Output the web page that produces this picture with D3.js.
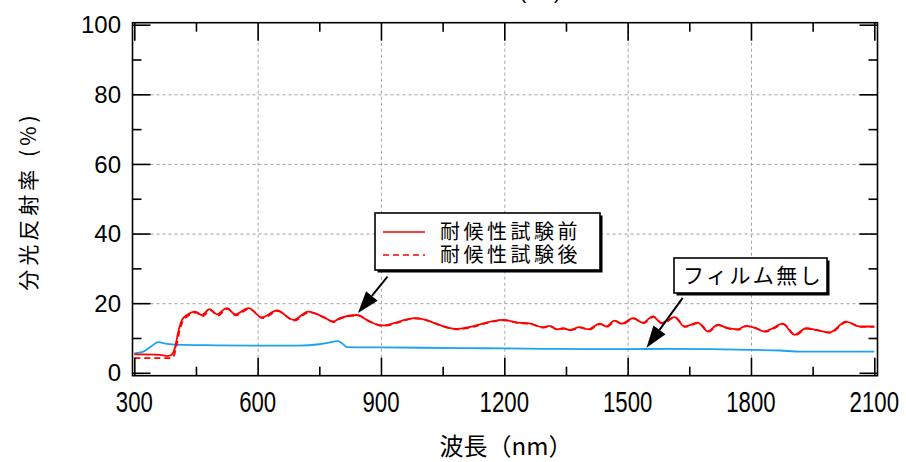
<!DOCTYPE html>
<html>
<head>
<meta charset="utf-8">
<script src="https://cdn.jsdelivr.net/npm/d3@7"></script>
<style>
  body { margin: 0; background: #fff; }
  svg { display: block; }
</style>
</head>
<body>
<div id="chart"></div>
<script>
// ---- data ----
const X_TICKS = [300, 600, 900, 1200, 1500, 1800, 2100];
const X_MINOR = [450, 750, 1050, 1350, 1650, 1950];
const Y_TICKS = [0, 20, 40, 60, 80, 100];
const Y_MINOR = [10, 30, 50, 70, 90];

const LEGEND_LABELS = ["耐候性試験前", "耐候性試験後"];
const NOFILM_LABEL = "フィルム無し";

// 耐候性試験前 (solid red)
const WAVE_BEFORE = [300, 320, 350, 370, 380, 390, 398, 408, 416, 428, 448, 464, 483, 501, 525, 545, 578, 610, 647, 687, 723, 760, 784, 800, 841, 873, 902, 983, 1084, 1197, 1233, 1260, 1294, 1310, 1327, 1343, 1359, 1383, 1404, 1432, 1448, 1468, 1485, 1513, 1537, 1561, 1582, 1614, 1638, 1671, 1695, 1719, 1744, 1768, 1788, 1810, 1833, 1853, 1877, 1906, 1934, 1960, 1991, 2031, 2064, 2100];
const REFL_BEFORE = [5.3, 5.3, 5.2, 5.0, 4.8, 5.1, 6.8, 12.3, 15.2, 16.6, 17.6, 16.6, 18.3, 16.8, 18.6, 16.8, 18.6, 15.9, 17.9, 15.2, 17.6, 16.0, 14.7, 15.7, 16.6, 14.7, 13.6, 15.7, 12.6, 15.2, 14.4, 14.2, 13.1, 13.5, 12.5, 12.8, 12.3, 13.1, 12.5, 14.1, 13.3, 15.0, 14.1, 15.7, 14.4, 16.2, 14.3, 16.0, 13.3, 14.4, 11.9, 13.8, 12.8, 12.5, 13.5, 12.9, 11.9, 12.8, 14.1, 10.9, 12.8, 12.3, 11.6, 14.7, 13.3, 13.3];

// 耐候性試験後 (dashed red)
const WAVE_AFTER = [300, 320, 350, 370, 385, 395, 402, 410, 418, 430, 450, 466, 485, 503, 527, 547, 580, 612, 649, 689, 725, 762, 786, 802, 843, 875, 904, 985, 1086, 1199, 1235, 1262, 1296, 1312, 1329, 1345, 1361, 1385, 1406, 1434, 1450, 1470, 1487, 1515, 1539, 1563, 1584, 1616, 1640, 1673, 1697, 1721, 1746, 1770, 1790, 1812, 1835, 1855, 1879, 1908, 1936, 1962, 1993, 2033, 2066, 2100];
const REFL_AFTER = [4.2, 4.2, 4.2, 4.2, 4.2, 4.6, 7.5, 12.0, 14.8, 16.3, 17.3, 16.2, 18.0, 16.4, 18.4, 16.5, 18.4, 15.7, 17.7, 15.0, 17.4, 15.9, 14.6, 15.6, 16.5, 14.6, 13.5, 15.6, 12.5, 15.1, 14.3, 14.1, 13.0, 13.4, 12.4, 12.7, 12.2, 13.0, 12.4, 14.0, 13.2, 14.9, 14.0, 15.6, 14.3, 16.1, 14.2, 15.9, 13.2, 14.3, 11.8, 13.7, 12.7, 12.4, 13.4, 12.8, 11.8, 12.7, 14.0, 10.8, 12.7, 12.2, 11.5, 14.6, 13.2, 13.2];

// フィルム無し (blue)
const WAVE_NOFILM = [300, 320, 340, 358, 380, 420, 500, 590, 700, 750, 770, 795, 805, 817, 900, 1000, 1100, 1200, 1300, 1400, 1500, 1600, 1700, 1800, 1870, 1920, 2000, 2100];
const REFL_NOFILM = [5.6, 6.0, 7.5, 8.8, 8.3, 8.0, 7.9, 7.8, 7.8, 8.2, 8.6, 9.1, 8.5, 7.4, 7.3, 7.2, 7.1, 7.0, 6.9, 6.8, 6.8, 6.9, 6.8, 6.6, 6.4, 6.1, 6.1, 6.1];

// annotation arrows [tail, tip] in data units
const ARROW_LEGEND = [[916, 27.6], [844, 17.2]];
const ARROW_NOFILM = [[1634, 21.5], [1546, 7.2]];

// ---- layout ----
const WIDTH = 906, HEIGHT = 462;
const FRAME = {left: 132.5, right: 877.5, top: 22.7, bottom: 375.7};
const MAJOR = 18, MINOR = 9;

const svg = d3.select("#chart").append("svg")
  .attr("width", WIDTH).attr("height", HEIGHT);

const x = d3.scaleLinear().domain([300, 2100]).range([134.3, 874.3]);
const y = d3.scaleLinear().domain([0, 100]).range([372.8, 24.7]);

// grid lines
svg.append("g")
  .attr("transform", `translate(0,${FRAME.bottom})`)
  .call(d3.axisBottom(x).tickValues(X_TICKS.slice(1, -1)).tickSize(-(FRAME.bottom - FRAME.top)).tickFormat(""))
  .call(g => g.select(".domain").remove());
svg.append("g")
  .attr("transform", `translate(${FRAME.left},0)`)
  .call(d3.axisLeft(y).tickValues(Y_TICKS.slice(1, -1)).tickSize(-(FRAME.right - FRAME.left)).tickFormat(""))
  .call(g => g.select(".domain").remove());
svg.selectAll(".tick line")
  .attr("stroke", "#a0a0a0")
  .attr("stroke-width", 1)
  .attr("stroke-dasharray", "3,3");

// curves
const makeLine = (waves) => d3.line()
  .x((d, i) => x(waves[i]))
  .y(d => y(d))
  .curve(d3.curveMonotoneX);

svg.append("path")
  .attr("d", makeLine(WAVE_NOFILM)(REFL_NOFILM))
  .attr("fill", "none")
  .attr("stroke", "#18a4f2")
  .attr("stroke-width", 1.8);

svg.append("path")
  .attr("d", makeLine(WAVE_AFTER)(REFL_AFTER))
  .attr("fill", "none")
  .attr("stroke", "#ff0000")
  .attr("stroke-width", 1.8)
  .attr("stroke-dasharray", "6,4");

svg.append("path")
  .attr("d", makeLine(WAVE_BEFORE)(REFL_BEFORE))
  .attr("fill", "none")
  .attr("stroke", "#ff0000")
  .attr("stroke-width", 1.8);

// ticks on all four sides (pointing inward)
function ticks(axis, transform, values, size) {
  const g = svg.append("g")
    .attr("transform", transform)
    .call(axis.tickValues(values).tickSize(-size).tickFormat(""));
  g.select(".domain").remove();
  g.selectAll(".tick line").attr("stroke", "#000").attr("stroke-width", 1.6);
  return g;
}
ticks(d3.axisBottom(x), `translate(0,${FRAME.bottom})`, X_TICKS, MAJOR);
ticks(d3.axisBottom(x), `translate(0,${FRAME.bottom})`, X_MINOR, MINOR);
ticks(d3.axisTop(x), `translate(0,${FRAME.top})`, X_TICKS, MAJOR);
ticks(d3.axisTop(x), `translate(0,${FRAME.top})`, X_MINOR, MINOR);
ticks(d3.axisLeft(y), `translate(${FRAME.left},0)`, Y_TICKS, MAJOR);
ticks(d3.axisLeft(y), `translate(${FRAME.left},0)`, Y_MINOR, MINOR);
ticks(d3.axisRight(y), `translate(${FRAME.right},0)`, Y_TICKS, MAJOR);
ticks(d3.axisRight(y), `translate(${FRAME.right},0)`, Y_MINOR, MINOR);

// frame
svg.append("rect")
  .attr("x", FRAME.left).attr("y", FRAME.top)
  .attr("width", FRAME.right - FRAME.left)
  .attr("height", FRAME.bottom - FRAME.top)
  .attr("fill", "none")
  .attr("stroke", "#000")
  .attr("stroke-width", 1.6);

// tick labels
svg.append("g").selectAll("text")
  .data(Y_TICKS)
  .join("text")
  .attr("x", 121)
  .attr("y", d => y(d))
  .attr("dy", "0.36em")
  .attr("text-anchor", "end")
  .attr("font-family", "Liberation Sans, Arial, sans-serif")
  .attr("font-size", 24)
  .text(d => d);

svg.append("g").selectAll("text")
  .data(X_TICKS)
  .join("text")
  .attr("transform", d => `translate(${x(d)},412) scale(0.74,1)`)
  .attr("text-anchor", "middle")
  .attr("font-family", "Liberation Sans, Arial, sans-serif")
  .attr("font-size", 30)
  .text(d => d);

// axis titles
svg.append("text")
  .attr("transform", "translate(29,201) rotate(-90)")
  .attr("text-anchor", "middle")
  .attr("dy", "0.35em")
  .attr("font-family", "Noto Sans CJK JP, sans-serif")
  .attr("font-size", 21)
  .attr("letter-spacing", 4)
  .text("分光反射率 (%)");

svg.append("text")
  .attr("x", 506).attr("y", 447)
  .attr("text-anchor", "middle")
  .attr("dy", "0.35em")
  .attr("font-family", "Noto Sans CJK JP, sans-serif")
  .attr("font-size", 24)
  .text("波長（nm）");

// remnant of the title above, cut off by the top edge
svg.append("text")
  .attr("x", 540).attr("y", -1)
  .attr("text-anchor", "middle")
  .attr("font-family", "Liberation Sans, Arial, sans-serif")
  .attr("font-size", 20)
  .text("(nm)");

// boxed labels with drop shadow
function shadowBox(bx, by, bw, bh) {
  svg.append("rect")
    .attr("x", bx + 2.5).attr("y", by + 2.5)
    .attr("width", bw).attr("height", bh)
    .attr("fill", "#000");
  svg.append("rect")
    .attr("x", bx).attr("y", by)
    .attr("width", bw).attr("height", bh)
    .attr("fill", "#fff")
    .attr("stroke", "#000")
    .attr("stroke-width", 1.6);
}

// arrows
function arrow(pts) {
  const [t0, t1] = pts;
  const x0 = x(t0[0]), y0 = y(t0[1]), x1 = x(t1[0]), y1 = y(t1[1]);
  const ang = Math.atan2(y1 - y0, x1 - x0);
  const len = 22, half = 7.5;
  const bx = x1 - len * Math.cos(ang), by = y1 - len * Math.sin(ang);
  svg.append("line")
    .attr("x1", x0).attr("y1", y0).attr("x2", bx).attr("y2", by)
    .attr("stroke", "#000").attr("stroke-width", 2);
  svg.append("path")
    .attr("d", d3.line()([
      [x1, y1],
      [bx + half * Math.sin(ang), by - half * Math.cos(ang)],
      [bx - half * Math.sin(ang), by + half * Math.cos(ang)]
    ]) + "Z")
    .attr("fill", "#000");
}
arrow(ARROW_LEGEND);
arrow(ARROW_NOFILM);

// legend
shadowBox(375, 213, 225, 57);
const legendRows = [{label: LEGEND_LABELS[0], dash: null}, {label: LEGEND_LABELS[1], dash: "6,4"}];
legendRows.forEach((r, i) => {
  const ly = 232 + i * 23;
  svg.append("line")
    .attr("x1", 383).attr("x2", 425)
    .attr("y1", ly).attr("y2", ly)
    .attr("stroke", "#ff0000")
    .attr("stroke-width", 1.6)
    .attr("stroke-dasharray", r.dash);
  svg.append("text")
    .attr("x", 440).attr("y", ly)
    .attr("dy", "0.36em")
    .attr("font-family", "Noto Sans CJK JP, sans-serif")
    .attr("font-size", 20)
    .attr("letter-spacing", 3.5)
    .text(r.label);
});

// no-film label
shadowBox(674, 258, 153, 35);
svg.append("text")
  .attr("x", 683).attr("y", 275.5)
  .attr("dy", "0.36em")
  .attr("font-family", "Noto Sans CJK JP, sans-serif")
  .attr("font-size", 21)
  .attr("letter-spacing", 2.5)
  .text(NOFILM_LABEL);
</script>
</body>
</html>
